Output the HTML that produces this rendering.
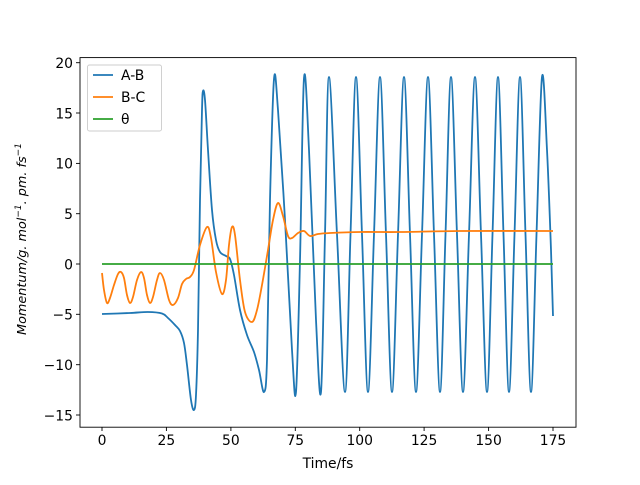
<!DOCTYPE html>
<html><head><meta charset="utf-8"><style>
body{margin:0;background:#fff;width:640px;height:480px;overflow:hidden}
svg{font-family:"DejaVu Sans","Liberation Sans",sans-serif}
</style></head><body>
<svg id="s" width="640" height="480" viewBox="0 0 640 480" xmlns="http://www.w3.org/2000/svg">
<rect width="640" height="480" fill="#fff"/>
<g id="curves" fill="none" stroke-width="1.8" stroke-linejoin="round">
<path id="ab" stroke="#1f77b4"/>
<path id="bc" stroke="#ff7f0e"/>
<line x1="102" y1="264" x2="553" y2="264" stroke="#2ca02c"/>
</g>
<rect x="80" y="57.6" width="496" height="369.6" fill="none" stroke="#000" stroke-width="0.9"/>
<g stroke="#000" stroke-width="0.9">
<line x1="102" y1="427" x2="102" y2="431"/><line x1="166.4" y1="427" x2="166.4" y2="431"/>
<line x1="230.9" y1="427" x2="230.9" y2="431"/><line x1="295.3" y1="427" x2="295.3" y2="431"/>
<line x1="359.7" y1="427" x2="359.7" y2="431"/><line x1="424.1" y1="427" x2="424.1" y2="431"/>
<line x1="488.6" y1="427" x2="488.6" y2="431"/><line x1="553" y1="427" x2="553" y2="431"/>
<line x1="76" y1="62.7" x2="80" y2="62.7"/><line x1="76" y1="113" x2="80" y2="113"/>
<line x1="76" y1="163.4" x2="80" y2="163.4"/><line x1="76" y1="213.7" x2="80" y2="213.7"/>
<line x1="76" y1="264" x2="80" y2="264"/><line x1="76" y1="314.3" x2="80" y2="314.3"/>
<line x1="76" y1="364.7" x2="80" y2="364.7"/><line x1="76" y1="415" x2="80" y2="415"/>
</g>
<g font-size="13.9" fill="#000" text-anchor="middle">
<text x="102" y="445">0</text><text x="166.4" y="445">25</text><text x="230.9" y="445">50</text>
<text x="295.3" y="445">75</text><text x="359.7" y="445">100</text><text x="424.1" y="445">125</text>
<text x="488.6" y="445">150</text><text x="553" y="445">175</text>
</g>
<g font-size="13.9" fill="#000" text-anchor="end">
<text x="73" y="68">20</text><text x="73" y="118.3">15</text><text x="73" y="168.7">10</text>
<text x="73" y="219">5</text><text x="73" y="269.3">0</text><text x="73" y="319.6">−5</text>
<text x="73" y="370">−10</text><text x="73" y="420.3">−15</text>
</g>
<text x="328" y="468" font-size="13.9" text-anchor="middle">Time/fs</text>
<text transform="translate(26,239) rotate(-90)" font-size="12.8" text-anchor="middle" font-style="italic">Momentum/g. mol<tspan font-size="9" dy="-5">−1</tspan><tspan dy="5">. pm. fs</tspan><tspan font-size="9" dy="-5">−1</tspan></text>
<rect x="87.5" y="65" width="74" height="66" rx="2" fill="#fff" fill-opacity="0.8" stroke="#ccc" stroke-width="0.9"/>
<line x1="93" y1="75" x2="113" y2="75" stroke="#1f77b4" stroke-width="1.8"/>
<line x1="93" y1="97" x2="113" y2="97" stroke="#ff7f0e" stroke-width="1.8"/>
<line x1="93" y1="119" x2="113" y2="119" stroke="#2ca02c" stroke-width="1.8"/>
<g font-size="13.9" fill="#000"><text x="121" y="80">A-B</text><text x="121" y="102">B-C</text><text x="121" y="124">θ</text></g>
</svg>
<script>
function cr(p){var d="M"+p[0][0]+","+p[0][1];
for(var i=0;i<p.length-1;i++){var p0=p[i-1]||p[i],p1=p[i],p2=p[i+1],p3=p[i+2]||p2;
d+=" C"+(p1[0]+(p2[0]-p0[0])/6).toFixed(2)+","+(p1[1]+(p2[1]-p0[1])/6).toFixed(2)+" "+(p2[0]-(p3[0]-p1[0])/6).toFixed(2)+","+(p2[1]-(p3[1]-p1[1])/6).toFixed(2)+" "+p2[0]+","+p2[1];}
return d;}
var ab=[[102,314],[130,313],[148,312],[162,313.5],[168,318],[175,325],[180,331],[184,343],[187,365],[191,400],[194,410],[196,395],[198,330],[200,200],[202,110],[203,91],[205,100],[208,150],[212,210],[216,240],[220,252],[226,256],[230,259],[234,275],[240,310],[247,335],[254,352],[259,370],[264,392],[267,360],[270,200],[274,79],[278,110],[285,220],[292,350],[296,392],[300,260],[304,78],[309,150],[316,320],[321,392]];
var ext=[[329,77],[345,392],[356,77],[368,392],[380,77],[392,392],[404,77],[416,392],[428,77],[440,392],[451,77],[463,392],[475,77],[487,392],[498,77],[509,392],[520,77],[531,392],[542,77]];
var prev=ab[ab.length-1];
ext.forEach(function(e){ab.push([(prev[0]+e[0])/2,(prev[1]+e[1])/2]);ab.push(e);prev=e;});
ab.push([547,150]);ab.push([551,250]);ab.push([553,316]);
document.getElementById("ab").setAttribute("d",cr(ab));
var bc=[[102,273],[104,290],[107,303],[110,298],[114,285],[118,274],[121,272],[124,278],[127,295],[130,303],[133,297],[137,280],[141,272],[144,278],[147,295],[150,303],[153,297],[157,280],[160,273],[164,280],[169,300],[173,305],[178,298],[182,284],[186,279],[190,277],[194,270],[200,245],[207,227],[211,238],[216,272],[222,294],[226,280],[229,245],[232,227],[235,235],[240,280],[245,312],[252,322],[257,310],[262,285],[268,250],[273,220],[278,203],[283,216],[288,236],[292,238],[298,233],[304,231],[310,236],[318,234],[330,233],[360,232],[400,232],[460,231],[553,231]];
document.getElementById("bc").setAttribute("d",cr(bc));
</script>
</body></html>
